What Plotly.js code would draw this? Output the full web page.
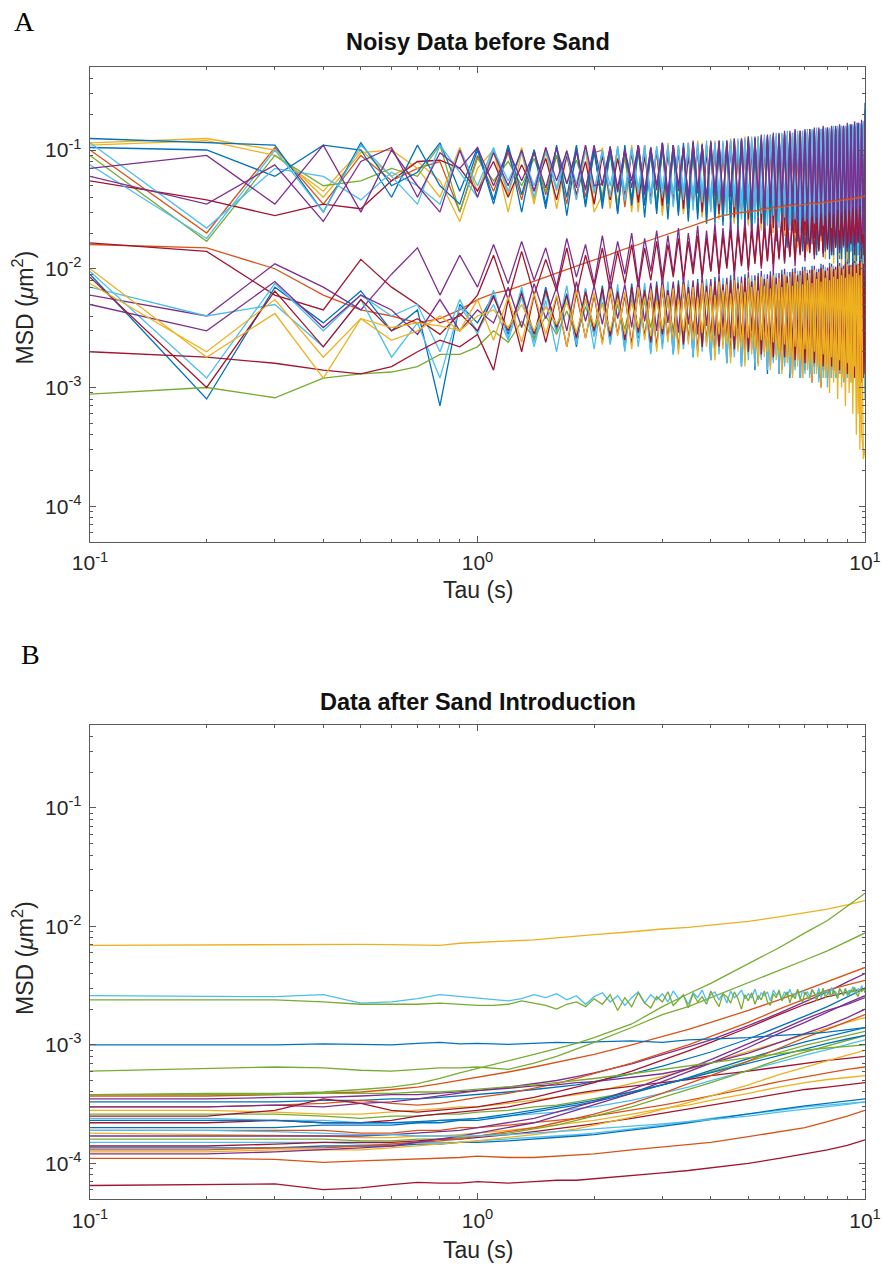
<!DOCTYPE html>
<html>
<head>
<meta charset="utf-8">
<script src="https://cdn.plot.ly/plotly-3.0.1.min.js"></script>
<style>html,body{margin:0;padding:0;background:#fff}#chart{width:882px;height:1267px}</style>
</head>
<body>
<div id="chart"></div>
<script>
// MATLAB default line colour order
const palette = ['#0072BD','#D95319','#EDB120','#7E2F8E','#77AC30','#4DBEEE','#A2142F'];

// Lag times (s)
const tauA = [0.1,0.2,0.3,0.4,0.5,0.6,0.7,0.8,0.9,1,
1.1,1.2,1.3,1.4,1.5,1.6,1.7,1.8,1.9,2,
2.1,2.2,2.3,2.4,2.5,2.6,2.7,2.8,2.9,3,
3.1,3.2,3.3,3.4,3.5,3.6,3.7,3.8,3.9,4,
4.1,4.2,4.3,4.4,4.5,4.6,4.7,4.8,4.9,5,
5.1,5.2,5.3,5.4,5.5,5.6,5.7,5.8,5.9,6,
6.1,6.2,6.3,6.4,6.5,6.6,6.7,6.8,6.9,7,
7.1,7.2,7.3,7.4,7.5,7.6,7.7,7.8,7.9,8,
8.1,8.2,8.3,8.4,8.5,8.6,8.7,8.8,8.9,9,
9.1,9.2,9.3,9.4,9.5,9.6,9.7,9.8,9.9,10];
const tauB = [0.1,0.2,0.3,0.4,0.5,0.6,0.7,0.8,0.9,1,1.2,1.4,1.6,1.8,2,2.5,3,3.5,4,5,6,7,8,9,10];

// All MSD values below are in units of 1e-4 µm²
const UNIT = 1e-4;

// ---- Panel A: noisy data before sand ----
const A_U1 = [1250,1150,1100,300,1150,500,650,1150,450,1050,
380,1100,420,1000,350,1050,400,1100,330,980,
360,1080,300,1020,380,1100,340,1050,290,1120,
350,1000,280,1150,320,1080,260,1120,300,1150,
240,1100,310,1200,220,1150,260,1250,230,1180,
200,1250,280,1200,190,1300,240,1250,170,1350,
260,1300,150,1250,220,1350,180,1300,140,1400,
200,1350,160,1450,130,1400,190,1450,150,1500,
120,1450,170,1500,110,1450,140,1550,120,1500,
150,1600,100,1550,130,1650,110,1600,180,2200];
const A_U2 = [1000,200,1050,350,900,550,700,800,300,900,
450,950,380,1000,420,900,350,1050,400,950,
1000,380,1050,330,980,400,1100,350,1000,300,
1080,360,1000,300,1150,340,1050,280,1100,320,
1150,270,1100,300,1200,250,1150,290,1250,240,
1150,260,1300,220,1200,280,1250,200,1300,250,
1250,190,1300,230,1250,170,1350,210,1300,160,
1400,200,1350,150,1450,180,1400,140,1450,170,
1400,130,1500,160,1450,120,1500,150,1450,110,
1550,140,1500,100,1600,130,1550,90,1650,150];
const A_U3 = [1100,1200,900,450,1000,600,800,550,250,700,
1000,300,950,350,1050,320,900,380,1000,300,
420,1000,350,950,300,1050,380,1000,330,1100,
280,1050,350,1100,260,1000,310,1150,240,1100,
300,1150,250,1100,280,1200,220,1150,270,1250,
200,1200,260,1250,180,1200,240,1300,170,1250,
230,1350,160,1300,210,1400,150,1350,200,1400,
140,1400,180,1450,130,1400,170,1450,120,1500,
160,1450,110,1500,150,1450,100,1550,140,1500,
90,1550,130,1500,80,1600,120,1550,70,1700];
const A_U4 = [700,900,350,1100,300,1000,500,300,1000,400,
950,500,1000,450,1050,550,980,480,1100,500,
520,1050,480,1000,550,1100,450,1050,500,1150,
430,1100,500,1050,400,1200,460,1100,380,1150,
450,1200,360,1150,420,1250,340,1200,400,1300,
320,1250,380,1350,300,1300,360,1400,280,1350,
340,1450,260,1400,320,1500,250,1450,300,1500,
230,1500,280,1550,220,1500,260,1600,200,1550,
250,1600,190,1550,240,1650,180,1600,220,1700,
170,1650,200,1750,160,1700,190,1800,150,1600];
const A_U5 = [900,170,900,500,550,700,600,1100,300,850,
550,800,500,850,450,900,520,820,480,950,
400,900,450,850,380,950,420,900,360,1000,
410,950,350,1000,400,900,330,1050,380,1000,
320,1100,370,1050,300,1100,350,1050,290,1150,
340,1100,280,1200,330,1150,260,1250,310,1200,
250,1250,300,1300,240,1250,290,1350,230,1300,
280,1350,220,1300,270,1400,210,1350,260,1450,
200,1400,250,1450,190,1400,240,1500,180,1450,
230,1500,170,1450,220,1550,160,1500,210,1400];
const A_U6 = [1150,220,700,600,380,650,500,350,1000,500,
1050,450,980,400,1000,460,950,380,1050,430,
1000,400,1080,370,1000,420,1100,350,1050,400,
1100,330,1050,380,1150,310,1100,360,1200,300,
1150,350,1200,280,1150,330,1250,260,1200,310,
1300,240,1250,290,1350,230,1300,280,1400,220,
1350,270,1450,210,1400,260,1450,200,1400,250,
1500,190,1450,240,1550,180,1500,230,1550,170,
1500,220,1600,160,1550,210,1600,150,1550,200,
1650,140,1600,190,1700,130,1650,180,1750,1200];
const A_U7 = [550,380,280,350,320,550,800,820,700,450,
800,400,750,450,850,380,900,420,800,350,
900,380,850,420,950,360,880,400,1000,340,
950,380,1000,320,900,360,1050,300,980,350,
1100,290,1050,340,1100,270,1050,320,1150,260,
1100,300,1200,240,1150,290,1200,220,1150,270,
1250,210,1200,260,1300,200,1250,250,1300,190,
1300,240,1350,180,1300,230,1400,170,1350,220,
1450,160,1400,210,1450,150,1400,200,1500,140,
1450,190,1550,130,1500,180,1550,120,1500,160];
const A_U8 = [1050,1000,600,1100,1000,400,1100,500,350,1000,
350,1050,300,1000,320,1100,280,1000,350,1080,
320,1000,290,1100,340,1050,270,1000,310,1150,
260,1100,300,1050,250,1150,290,1100,240,1150,
280,1200,230,1150,270,1250,220,1200,260,1300,
210,1250,250,1300,200,1250,240,1350,190,1300,
230,1400,180,1350,220,1450,170,1400,210,1450,
160,1450,200,1500,150,1450,190,1550,140,1500,
180,1550,130,1500,170,1600,120,1550,160,1600,
110,1600,150,1650,100,1600,140,1700,90,2500];
const A_U9 = [600,350,750,250,800,1050,400,950,700,1050,
500,1000,550,950,480,1050,520,980,460,1100,
500,1050,440,1000,480,1100,420,1050,460,1150,
400,1100,450,1050,380,1150,430,1100,360,1200,
410,1150,350,1200,400,1150,330,1250,380,1200,
310,1300,360,1250,300,1350,350,1300,280,1400,
330,1350,270,1450,320,1400,260,1450,300,1400,
250,1500,290,1450,240,1550,280,1500,230,1550,
270,1500,220,1600,260,1550,210,1600,250,1550,
200,1650,240,1600,190,1700,230,1650,180,1800];
const A_U10 = [750,180,1000,300,1100,600,350,1100,650,400,
1000,550,950,500,1020,480,980,520,1050,460,
950,500,1000,450,1050,480,980,430,1080,470,
1000,420,1100,450,1050,400,1150,440,1080,380,
1150,420,1100,370,1200,400,1150,350,1250,390,
1200,340,1300,380,1250,320,1350,360,1300,300,
1400,350,1350,290,1400,330,1350,280,1450,320,
1400,270,1500,310,1450,260,1500,300,1450,250,
1550,290,1500,240,1600,280,1550,230,1600,270,
1600,220,1650,260,1600,210,1700,250,1650,600];
const A_U11 = [1150,1250,1000,400,950,1000,700,400,1050,450,
1000,420,1050,380,950,450,1000,400,1100,350,
1050,320,1000,380,1100,300,1050,360,1000,280,
1150,340,1100,290,1050,330,1200,270,1100,310,
1200,260,1150,300,1250,240,1200,280,1300,230,
1200,270,1300,210,1250,260,1350,200,1300,250,
1350,190,1300,240,1400,180,1350,230,1450,170,
1400,220,1450,160,1400,210,1500,150,1450,200,
1500,140,1450,190,1550,130,1500,180,1550,120,
1500,170,1600,110,1550,160,1650,100,1600,900];
const A_M1 = [160,150,100,60,45,40,35,38,45,55,
62,66,72,78,85,92,98,105,112,118,
125,132,140,146,152,160,168,175,182,190,
198,205,212,220,226,232,240,248,255,262,
268,275,280,285,288,292,295,298,300,302,
300,310,305,320,315,325,318,330,322,335,
328,340,332,345,336,350,340,338,346,352,
345,356,350,360,348,362,355,366,358,370,
362,372,366,378,370,382,374,386,378,390,
382,395,386,400,390,405,394,410,398,420];
const A_M2 = [60,40,110,70,45,90,150,60,130,70,
160,75,170,80,150,70,180,85,160,75,
190,80,170,90,200,75,180,95,210,85,
190,90,220,80,200,100,230,85,210,95,
240,90,220,105,250,85,230,110,260,95,
240,115,270,100,250,120,280,95,260,125,
290,110,270,130,300,105,280,135,310,115,
290,140,320,120,300,145,330,125,310,150,
340,130,320,155,350,135,330,160,360,140,
340,165,370,145,350,170,380,150,360,130];
const A_M3 = [165,140,60,45,120,70,50,35,40,60,
130,55,140,60,120,65,150,60,130,70,
150,65,140,75,160,70,150,80,170,75,
160,85,180,80,170,90,190,85,180,95,
200,90,190,100,210,95,200,105,220,100,
210,110,230,105,220,115,240,110,230,120,
250,115,240,125,260,120,250,130,270,125,
260,135,280,130,270,140,290,135,280,145,
300,140,290,150,310,145,300,155,320,150,
310,160,330,155,320,165,340,160,200,100];
const A_L1 = [90,8,70,35,65,30,45,7,50,35,
60,28,65,25,70,30,62,22,68,27,
72,24,66,21,75,26,70,20,78,23,
70,19,80,24,74,18,82,22,76,17,
85,21,78,16,88,20,80,15,90,19,
82,14,92,18,84,13,95,17,86,13,
98,16,88,12,100,15,90,12,104,14,
92,13,106,15,95,12,110,14,98,12,
112,14,100,12,116,13,104,12,120,13,
108,12,124,13,112,11,128,12,116,10];
const A_L2 = [85,10,65,22,55,30,38,28,42,30,
58,30,62,28,66,32,60,26,64,30,
68,27,64,25,70,29,66,24,72,28,
66,26,74,23,70,27,76,22,72,26,
78,22,74,25,80,21,76,24,84,20,
78,23,86,19,82,22,88,18,84,21,
90,18,86,21,94,17,88,20,96,16,
92,19,98,16,94,18,102,15,96,17,
104,15,100,17,108,14,102,16,110,13,
106,15,112,12,108,14,116,11,110,13];
const A_L3 = [75,20,55,18,38,25,30,40,30,55,
25,58,24,62,28,60,22,66,26,63,
23,68,27,64,21,70,25,66,20,72,
24,68,19,74,23,70,18,76,22,72,
17,78,21,74,16,80,20,76,15,84,
19,80,15,86,18,82,14,88,17,84,
13,90,16,86,12,92,15,88,12,96,
14,92,11,98,13,94,10,100,12,96,
9,104,11,98,8,106,10,100,7,110,
9,104,6,112,4,108,3,115,2.5,3];
const A_L4 = [8.8,10,8.2,12,13,13.5,15,19,19,22,
30,24,36,26,40,28,44,27,48,30,
52,28,50,31,56,29,54,32,58,28,
54,30,60,27,56,29,62,26,58,28,
64,25,60,28,66,24,62,27,68,23,
64,26,70,22,66,25,72,21,68,24,
74,20,70,23,76,19,72,22,78,18,
74,21,80,17,76,20,82,16,78,19,
84,15,80,18,86,14,82,17,88,13,
84,16,90,12,86,15,92,11,88,14];
const A_L5 = [70,40,50,22,55,18,35,12,48,30,
50,25,58,22,54,20,60,24,56,21,
62,23,58,20,64,22,60,19,66,21,
62,19,68,21,64,18,70,20,66,17,
72,19,68,16,74,18,70,15,76,17,
72,15,78,17,74,14,80,16,76,13,
82,15,78,13,84,14,80,12,86,13,
82,12,88,13,84,11,90,12,86,10,
92,12,88,12,94,13,90,11,96,12,
92,11,98,12,94,10,100,11,130,8];
const A_L6 = [50,30,78,32,60,45,28,55,30,45,
35,70,32,75,38,70,30,78,36,72,
34,80,38,74,32,82,36,76,30,84,
35,78,29,86,34,80,28,88,33,82,
27,90,32,84,26,92,31,86,25,94,
30,88,24,96,29,90,23,98,28,92,
22,100,27,94,21,102,26,96,20,104,
25,98,19,106,24,100,18,108,23,102,
17,110,22,104,16,112,21,106,15,114,
20,108,14,116,19,110,13,118,18,112];
const A_L7 = [20,18,16,14,13,15,20,25,22,28,
14,55,20,60,24,58,22,62,26,60,
24,64,28,60,23,66,27,62,22,68,
26,64,21,70,25,66,20,72,24,68,
19,74,23,70,18,76,22,72,17,78,
21,74,16,80,20,76,15,82,19,78,
14,84,18,80,13,86,17,82,12,88,
16,84,11,90,15,86,10,92,14,88,
12,94,14,90,12,96,13,92,11,98,
13,94,11,100,12,96,10,102,12,98];
const A_L8 = [100,18,42,12,38,32,35,33,30,40,
45,32,50,30,48,34,52,29,55,33,
50,30,56,28,52,32,58,27,54,31,
60,26,56,30,62,25,58,29,64,24,
60,28,66,23,62,27,68,22,64,26,
70,21,66,25,72,20,68,24,74,19,
70,23,76,18,72,22,78,17,74,21,
80,16,76,20,82,15,78,19,84,14,
80,18,86,13,82,17,88,12,84,16,
90,11,86,15,92,6,88,4,3,2.8];
const A_L9 = [95,12,75,30,60,40,50,20,55,28,
66,26,70,24,62,29,72,23,68,27,
64,25,74,22,68,27,76,21,70,25,
78,20,72,24,80,19,74,23,82,18,
76,22,84,17,78,21,86,16,80,20,
88,16,82,19,90,15,84,18,92,14,
86,17,94,14,88,16,96,13,90,15,
98,13,92,15,100,12,94,14,104,12,
96,14,106,12,98,13,110,12,100,13,
112,12,104,13,116,11,108,12,100,9];

// draw order (later = on top) and colour index for each series
const seriesA = [A_U2,A_U3,A_U11,A_U5,A_U7,A_U1,A_U8,A_U6,A_U10,A_U4,A_U9,A_M1,A_M2,A_M3,A_L1,A_L9,A_L4,A_L5,A_L6,A_L2,A_L7,A_L3,A_L8];
const colorIdxA = [1,2,2,4,6,0,0,5,5,3,3,1,3,6,0,5,4,5,3,6,6,2,2];

// ---- Panel B: data after sand introduction ----
const B_yellowTop = [69,70,70,70.5,70.5,70,70,69,72,73,75,77,80,82,85,90,95,98,102,110,120,130,140,152,165];
const B_cyanNoisy = [26,25.8,25.5,26.5,22.5,23,24.5,26.5,25.5,25,
24,23.5,24.5,26.5,25,27,24,26,22,25.5,
27.5,23,26,21.5,25,28,22.5,26.5,24,27,
23,28.5,24.5,26,22,27.5,25,29,23.5,26.5,
28,24,27,22.5,28.5,25,26.5,29,24.5,27,
25,29.5,24,27.5,26,28,23.5,29,26.5,27.5,
24.5,28,26,29.5,25,27,28.5,24,29,26.5,
28,25.5,29.5,27,26,30,25,28.5,27,29,
26.5,30.5,27,28,25.5,29.5,28,27,30,26,
29,27.5,31,28,26.5,30,28.5,31.5,29,30.5];
const B_greenNoisy = [24,24,24,23,22,22,22,22.5,22,21.5,
21.5,22,23.5,22.5,21.5,20,22,23,21,24.5,
22,26.5,19.5,25,21,27.5,22.5,20.5,25.5,23,
28,21.5,24,26.5,20.5,27,23,25.5,22,28.5,
24,21,27,25.5,22.5,28,24.5,20,26.5,23.5,
27.5,22,26,24,28.5,23,21.5,27,25,29,
23.5,26,28,22.5,27,24.5,29.5,25,23,28,
26,24,29,27.5,23.5,28,26.5,30,25,27,
28.5,25.5,29,27,24.5,30,28,26,29.5,27.5,
26.5,29,28,30.5,27,25.5,29.5,28,30,27.5];
const B_blue1e3 = [10,10,10,10.2,10.1,10,10.3,10.5,10.2,10.3,10.1,10.3,10.5,10.4,10.6,10.8,10.5,11,11.2,11.5,12,12.3,12.8,13.5,14];
const B_greenFlat = [6,6.3,6.5,6.4,6.1,6,6.2,6.4,6.4,6.5,6.2,7,8,9.2,10.5,14,18,21,25,33,42,52,62,75,88];
const B_greenSteep = [3.8,3.9,3.9,4.0,4.2,4.4,4.7,5.2,5.8,6.3,7.3,8.3,9.3,10.3,11.5,15,21,27,33,48,66,88,112,148,190];
const B_b1 = [3.7,3.7,3.8,3.9,4.0,4.2,4.4,4.7,5.0,5.3,5.9,6.5,7.1,7.7,8.3,10,11.8,13.5,15.5,19.5,24,29,34,39,45];
const B_b2 = [3.5,3.5,3.6,3.6,3.7,3.8,3.8,3.9,4.0,4.1,4.4,4.7,5.0,5.4,5.8,6.9,8.2,9.6,11,14.5,18.5,23,28,34,40];
const B_b3 = [3.3,3.3,3.3,3.4,3.4,3.5,3.5,3.6,3.7,3.8,4.0,4.2,4.4,4.6,4.9,5.7,6.6,7.6,8.7,11.2,14.2,17.5,21,25.5,30];
const B_b4 = [3.0,3.0,3.1,3.2,3.4,3.2,3.1,3.2,3.4,3.6,3.9,4.3,4.7,5.2,5.7,7.0,8.5,10,11.8,15.5,20,24.5,29,32,35];
const B_b5 = [2.8,2.8,2.7,2.6,2.6,2.7,2.8,2.9,3.0,3.0,3.2,3.4,3.6,3.8,4.0,4.7,5.4,6.2,7.0,8.8,10.5,12.3,14,15.5,17];
const B_b6 = [3.0,3.0,3.1,3.0,3.2,3.3,3.5,3.7,3.9,4.1,4.3,4.5,4.6,4.8,4.9,5.3,5.7,6.3,7.0,8.5,10.5,12.5,14.5,17,20];
const B_b7 = [2.6,2.6,2.6,2.5,2.4,2.5,2.5,2.6,2.6,2.7,2.8,3.0,3.1,3.3,3.5,4.0,4.6,5.2,5.9,7.2,8.6,9.9,11,12,13];
const B_b8 = [2.4,2.4,2.3,2.3,2.2,2.2,2.2,2.3,2.3,2.4,2.5,2.6,2.7,2.9,3.0,3.4,3.9,4.4,5.0,6.1,7.2,8.2,9.1,10,11];
const B_b9 = [2.2,2.2,2.3,2.2,2.2,2.3,2.5,2.6,2.7,2.8,3.0,3.3,3.6,3.9,4.1,4.5,4.8,5.1,5.5,6.0,6.5,7.0,7.4,7.7,8.0];
const B_b10 = [2.0,2.0,2.0,2.1,2.1,2.1,2.2,2.2,2.3,2.3,2.5,2.7,2.9,3.1,3.3,3.9,4.6,5.3,6.1,7.7,9.2,10.6,11.8,13,14];
const B_b11 = [1.9,1.9,1.9,1.9,1.8,1.8,1.9,1.9,2.0,2.0,2.1,2.2,2.3,2.4,2.5,2.8,3.1,3.4,3.7,4.3,4.9,5.4,5.8,6.2,6.5];
const B_b12 = [1.8,1.75,1.7,1.7,1.65,1.65,1.7,1.7,1.75,1.8,1.9,2.0,2.1,2.2,2.3,2.6,2.9,3.1,3.4,3.9,4.4,4.8,5.1,5.3,5.5];
const B_b13 = [1.7,1.7,1.7,1.7,1.7,1.75,1.8,1.85,1.9,2.0,2.2,2.4,2.7,3.0,3.3,4.2,5.2,6.3,7.5,10.2,13.2,16.5,19.5,22,25];
const B_b14 = [1.6,1.6,1.6,1.6,1.55,1.55,1.6,1.6,1.65,1.7,1.8,1.95,2.1,2.3,2.5,3.0,3.6,4.2,4.8,6.1,7.5,8.7,9.8,11,12];
const B_b15 = [1.5,1.5,1.5,1.5,1.45,1.45,1.5,1.5,1.5,1.55,1.6,1.65,1.7,1.75,1.8,1.95,2.1,2.25,2.4,2.6,2.8,3.0,3.1,3.2,3.3];
const B_b16 = [1.4,1.4,1.45,1.5,1.5,1.5,1.55,1.6,1.6,1.65,1.75,1.85,1.95,2.05,2.15,2.4,2.65,2.9,3.1,3.5,3.9,4.2,4.4,4.6,4.8];
const B_b17 = [1.35,1.35,1.35,1.4,1.4,1.4,1.45,1.45,1.5,1.5,1.55,1.6,1.65,1.7,1.75,1.9,2.05,2.2,2.35,2.6,2.85,3.05,3.2,3.35,3.5];
const B_b18 = [1.3,1.3,1.35,1.35,1.4,1.45,1.5,1.55,1.6,1.7,1.85,2.0,2.2,2.4,2.6,3.2,3.9,4.7,5.5,7.3,9.3,11.5,13.5,15.8,18];
const B_b19 = [1.25,1.25,1.3,1.3,1.3,1.35,1.4,1.45,1.5,1.55,1.65,1.75,1.85,1.95,2.1,2.45,2.85,3.25,3.7,4.6,5.6,6.5,7.3,8.2,9];
const B_b20 = [1.2,1.2,1.25,1.3,1.35,1.4,1.5,1.6,1.7,1.8,2.0,2.2,2.5,2.8,3.1,3.9,4.9,5.9,7.0,9.5,12.5,15.5,19,22.5,26];
const B_b21 = [1.1,1.1,1.08,1.02,1.05,1.07,1.1,1.1,1.12,1.15,1.12,1.12,1.15,1.18,1.2,1.3,1.38,1.45,1.5,1.68,1.85,2.0,2.25,2.5,2.8];
const B_b22 = [0.65,0.66,0.67,0.6,0.62,0.66,0.69,0.68,0.68,0.7,0.68,0.7,0.72,0.72,0.74,0.78,0.83,0.87,0.92,1.0,1.1,1.2,1.3,1.42,1.58];
const B_b23 = [1.9,1.9,1.85,1.8,1.75,1.75,1.7,1.7,1.7,1.7,1.75,1.8,1.85,1.9,1.95,2.05,2.15,2.25,2.35,2.5,2.7,2.85,3.0,3.15,3.3];
const B_b24 = [2.3,2.3,2.3,2.2,2.2,2.2,2.25,2.3,2.35,2.4,2.6,2.8,3.0,3.2,3.4,4.0,4.6,5.2,5.8,7.0,8.2,9.3,10.3,11.2,12];
const B_b25 = [2.5,2.5,2.8,3.5,3.2,2.8,2.7,2.8,2.9,3.0,3.3,3.6,4.0,4.4,4.8,6.0,7.4,8.9,10.5,14,18,22,25.5,28,30];
const B_b26 = [3.8,3.8,3.8,3.9,3.9,3.9,4.0,4.0,4.1,4.2,4.4,4.6,4.8,5.0,5.2,5.7,6.2,6.7,7.1,7.8,8.4,9.0,9.4,9.7,10];

const seriesB = [B_b1,B_b2,B_b3,B_b4,B_b5,B_b6,B_b7,B_b8,B_b9,B_b10,B_b11,B_b12,B_b13,B_b14,B_b15,B_b16,B_b17,B_b18,B_b19,B_b20,B_b21,B_b22,B_b23,B_b24,B_b25,B_b26,
                 B_yellowTop,B_blue1e3,B_greenFlat,B_greenSteep];
const colorIdxB = [1,3,0,1,2,3,4,5,6,0,1,2,3,4,5,6,0,1,2,3,1,6,5,0,6,4, 2,0,4,4];
const noisyB = [B_cyanNoisy,B_greenNoisy];
const colorIdxNoisyB = [5,4];

// Axis tick labels and titles
const xTickVals = [0.1,1,10];
const xTickText = ['10<sup>-1</sup>','10<sup>0</sup>','10<sup>1</sup>'];
const xMinorVals = [0.2,0.3,0.4,0.5,0.6,0.7,0.8,0.9,2,3,4,5,6,7,8,9];
const yTickVals = [1e-4,1e-3,1e-2,1e-1];
const yTickText = ['10<sup>-4</sup>','10<sup>-3</sup>','10<sup>-2</sup>','10<sup>-1</sup>'];
const yMinorVals = [6e-5,7e-5,8e-5,9e-5,2e-4,3e-4,4e-4,5e-4,6e-4,7e-4,8e-4,9e-4,2e-3,3e-3,4e-3,5e-3,6e-3,7e-3,8e-3,9e-3,0.02,0.03,0.04,0.05,0.06,0.07,0.08,0.09,0.2,0.3,0.4];
const xTitle = 'Tau (s)';
const yTitle = 'MSD (<i>μ</i>m<sup>2</sup>)';
const titleA = 'Noisy Data before Sand';
const titleB = 'Data after Sand Introduction';

const FONT = 'Liberation Sans, Arial, Helvetica, sans-serif';
const TXT = '#262626';
const AXC = '#5a5a5a';
const LW = 1.3;

const toMSD = arr => arr.map(v => v * UNIT);
const traces = [];
seriesA.forEach((s, i) => traces.push({
  x: tauA, y: toMSD(s), type: 'scatter', mode: 'lines', xaxis: 'x', yaxis: 'y',
  line: {color: palette[colorIdxA[i]], width: LW}, hoverinfo: 'skip', showlegend: false
}));
seriesB.forEach((s, i) => traces.push({
  x: tauB, y: toMSD(s), type: 'scatter', mode: 'lines', xaxis: 'x2', yaxis: 'y2',
  line: {color: palette[colorIdxB[i]], width: LW}, hoverinfo: 'skip', showlegend: false
}));
noisyB.forEach((s, i) => traces.push({
  x: tauA, y: toMSD(s), type: 'scatter', mode: 'lines', xaxis: 'x2', yaxis: 'y2',
  line: {color: palette[colorIdxNoisyB[i]], width: LW}, hoverinfo: 'skip', showlegend: false
}));

function xAxis(anchor) {
  return {
    type: 'log', range: [-1, 1], anchor: anchor, domain: [0, 1],
    showline: true, linecolor: AXC, linewidth: 1.3, mirror: 'allticks',
    ticks: 'inside', ticklen: 6, tickcolor: AXC, tickwidth: 1,
    tickmode: 'array', tickvals: xTickVals, ticktext: xTickText,
    minor: {tickmode: 'array', tickvals: xMinorVals, ticks: 'inside', ticklen: 3, tickcolor: AXC},
    showgrid: false, zeroline: false, automargin: false, ticklabelstandoff: 2,
    tickfont: {family: FONT, size: 21, color: TXT}
  };
}
function yAxis(anchor, domain) {
  return {
    type: 'log', range: [Math.log10(5e-5), Math.log10(0.5)], anchor: anchor, domain: domain,
    showline: true, linecolor: AXC, linewidth: 1.3, mirror: 'allticks',
    ticks: 'inside', ticklen: 6, tickcolor: AXC, tickwidth: 1,
    tickmode: 'array', tickvals: yTickVals, ticktext: yTickText,
    minor: {tickmode: 'array', tickvals: yMinorVals, ticks: 'inside', ticklen: 3, tickcolor: AXC},
    showgrid: false, zeroline: false, automargin: false, ticklabelstandoff: 3,
    tickfont: {family: FONT, size: 21, color: TXT}
  };
}

const titleFont = {family: FONT, size: 23.5, color: '#111'};
const axisTitleFont = {family: FONT, size: 23, color: TXT};
const panelFont = {family: 'Liberation Serif, Times New Roman, serif', size: 28, color: '#000'};

const layout = {
  width: 882, height: 1267,
  margin: {l: 90, r: 17, t: 67, b: 68},
  paper_bgcolor: '#ffffff', plot_bgcolor: '#ffffff',
  showlegend: false,
  xaxis: xAxis('y'),
  yaxis: yAxis('x', [0.5804, 1]),
  xaxis2: xAxis('y2'),
  yaxis2: yAxis('x2', [0, 0.4187]),
  annotations: [
    {text: '<b>' + titleA + '</b>', xref: 'paper', yref: 'paper', x: 0.5, y: 1.0221,
     xanchor: 'center', yanchor: 'middle', showarrow: false, font: titleFont},
    {text: '<b>' + titleB + '</b>', xref: 'paper', yref: 'paper', x: 0.5, y: 0.4390,
     xanchor: 'center', yanchor: 'middle', showarrow: false, font: titleFont},
    {text: xTitle, xref: 'paper', yref: 'paper', x: 0.5, y: 0.538,
     xanchor: 'center', yanchor: 'middle', showarrow: false, font: axisTitleFont},
    {text: xTitle, xref: 'paper', yref: 'paper', x: 0.5, y: -0.0451,
     xanchor: 'center', yanchor: 'middle', showarrow: false, font: axisTitleFont},
    {text: yTitle, xref: 'paper', yref: 'paper', x: -0.0865, y: 0.7875, textangle: -90,
     xanchor: 'center', yanchor: 'middle', showarrow: false, font: axisTitleFont},
    {text: yTitle, xref: 'paper', yref: 'paper', x: -0.0865, y: 0.2129, textangle: -90,
     xanchor: 'center', yanchor: 'middle', showarrow: false, font: axisTitleFont},
    {text: 'A', xref: 'paper', yref: 'paper', x: -0.0839, y: 1.0398,
     xanchor: 'center', yanchor: 'middle', showarrow: false, font: panelFont},
    {text: 'B', xref: 'paper', yref: 'paper', x: -0.0774, y: 0.4806,
     xanchor: 'center', yanchor: 'middle', showarrow: false, font: panelFont}
  ]
};

Plotly.newPlot('chart', traces, layout, {displayModeBar: false, staticPlot: true});
</script>
</body>
</html>
